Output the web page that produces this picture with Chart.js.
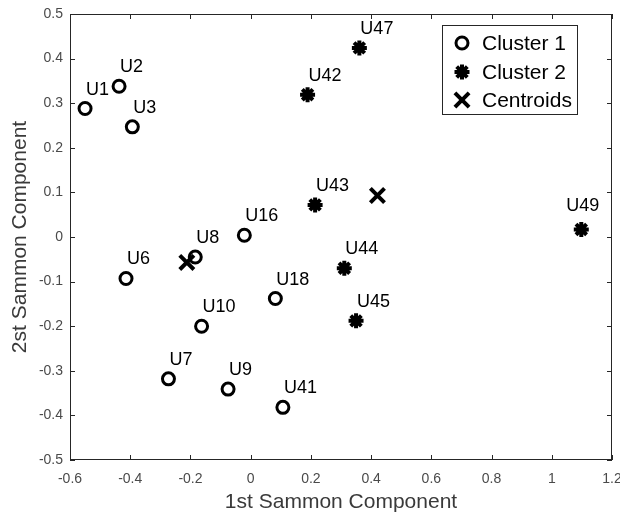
<!DOCTYPE html>
<html>
<head>
<meta charset="utf-8">
<script src="https://cdn.jsdelivr.net/npm/chart.js@4"></script>
<style>
  html, body { margin: 0; padding: 0; background: #fff; }
</style>
</head>
<body>
<canvas id="sammon" width="620" height="519"></canvas>
<script>
// cluster 1 (open circles)
var c1Names = ['U1', 'U2', 'U3', 'U6', 'U7', 'U8', 'U9', 'U10', 'U16', 'U18', 'U41'];
var c1X = [-0.550, -0.437, -0.393, -0.414, -0.273, -0.184, -0.075, -0.163, -0.021, 0.082, 0.107];
var c1Y = [0.288, 0.338, 0.247, -0.093, -0.318, -0.045, -0.341, -0.200, 0.004, -0.138, -0.382];

// cluster 2 (asterisks)
var c2Names = ['U42', 'U43', 'U44', 'U45', 'U47', 'U49'];
var c2X = [0.189, 0.214, 0.311, 0.350, 0.361, 1.098];
var c2Y = [0.319, 0.072, -0.070, -0.188, 0.424, 0.017];

// centroids
var cenX = [-0.212, 0.421];
var cenY = [-0.057, 0.093];

var legendNames = ['Cluster 1', 'Cluster 2', 'Centroids'];
var xTicks = [-0.6, -0.4, -0.2, 0, 0.2, 0.4, 0.6, 0.8, 1, 1.2];
var yTicks = [-0.5, -0.4, -0.3, -0.2, -0.1, 0, 0.1, 0.2, 0.3, 0.4, 0.5];

function pts(xs, ys) {
  return xs.map(function (x, i) { return { x: x, y: ys[i] }; });
}

var FONT = '"Liberation Sans", Arial, sans-serif';
var AXIS = '#262626';

// point labels, frame with inward ticks, and boxed legend
var extras = {
  id: 'extras',
  afterDatasetsDraw: function (chart) {
    var ctx = chart.ctx;
    var a = chart.chartArea;
    var xs = chart.scales.x, ys = chart.scales.y;
    ctx.save();

    // frame
    ctx.strokeStyle = AXIS;
    ctx.lineWidth = 1;
    ctx.strokeRect(Math.round(a.left) + 0.5, Math.round(a.top) + 0.5,
      Math.round(a.right - a.left) - 1, Math.round(a.bottom - a.top) - 1);

    // inward tick marks on all sides
    ctx.beginPath();
    xTicks.forEach(function (v) {
      var px = Math.round(xs.getPixelForValue(v)) + 0.5;
      ctx.moveTo(px, a.bottom); ctx.lineTo(px, a.bottom - 5);
      ctx.moveTo(px, a.top); ctx.lineTo(px, a.top + 5);
    });
    yTicks.forEach(function (v) {
      var py = Math.round(ys.getPixelForValue(v)) + 0.5;
      ctx.moveTo(a.left, py); ctx.lineTo(a.left + 5, py);
      ctx.moveTo(a.right, py); ctx.lineTo(a.right - 5, py);
    });
    ctx.stroke();

    // point labels
    ctx.fillStyle = '#000';
    ctx.font = '18px ' + FONT;
    ctx.textBaseline = 'alphabetic';
    ctx.textAlign = 'left';
    [[0, c1Names], [1, c2Names]].forEach(function (pair) {
      var meta = chart.getDatasetMeta(pair[0]);
      meta.data.forEach(function (el, i) {
        var name = pair[1][i];
        var dx = 1, dy = -14;
        if (name === 'U49') { dx = -15; dy = -18; }
        ctx.fillText(name, el.x + dx, el.y + dy);
      });
    });

    // legend box
    var bx = 442, by = 25, bw = 135, bh = 89;
    ctx.fillStyle = '#fff';
    ctx.fillRect(bx, by, bw, bh);
    ctx.strokeStyle = AXIS;
    ctx.strokeRect(bx + 0.5, by + 0.5, bw, bh);
    var rows = [43, 72, 100];
    ctx.font = '21px ' + FONT;
    ctx.textBaseline = 'middle';
    rows.forEach(function (ry, i) {
      var ds = chart.data.datasets[i];
      ctx.strokeStyle = '#000';
      ctx.fillStyle = 'rgba(0,0,0,0)';
      ctx.lineWidth = ds.pointBorderWidth;
      Chart.helpers.drawPoint(ctx, {
        pointStyle: ds.pointStyle, radius: ds.pointRadius, borderWidth: ds.pointBorderWidth, rotation: 0
      }, 462, ry);
      ctx.fillStyle = '#000';
      ctx.fillText(legendNames[i], 482, ry + 1);
    });
    ctx.restore();
  }
};

new Chart(document.getElementById('sammon').getContext('2d'), {
  type: 'scatter',
  data: {
    datasets: [{
      label: legendNames[0],
      data: pts(c1X, c1Y),
      pointStyle: 'circle',
      pointRadius: 6,
      pointBorderWidth: 3,
      borderColor: '#000',
      backgroundColor: 'rgba(0,0,0,0)',
      order: 2
    }, {
      label: legendNames[1],
      data: pts(c2X, c2Y),
      pointStyle: 'star',
      pointRadius: 7.5,
      pointBorderWidth: 4,
      borderColor: '#000',
      backgroundColor: '#000',
      order: 1
    }, {
      label: legendNames[2],
      data: pts(cenX, cenY),
      pointStyle: 'crossRot',
      pointRadius: 10,
      pointBorderWidth: 4,
      borderColor: '#000',
      backgroundColor: '#000',
      order: 0
    }]
  },
  options: {
    responsive: false,
    animation: false,
    events: [],
    layout: { autoPadding: false, padding: { top: 14, right: 8, left: 0, bottom: 0 } },
    plugins: { legend: { display: false }, tooltip: { enabled: false } },
    scales: {
      x: {
        type: 'linear',
        min: -0.6,
        max: 1.2,
        afterBuildTicks: function (s) { s.ticks = xTicks.map(function (v) { return { value: v }; }); },
        afterFit: function (s) { s.height = 59; s.paddingLeft = 0; s.paddingRight = 0; },
        grid: { display: false, drawTicks: false },
        border: { display: false },
        ticks: {
          padding: 11,
          color: '#4a4a4a',
          font: { family: FONT, size: 14 },
          maxRotation: 0,
          callback: function (v) { return String(v); }
        },
        title: {
          display: true,
          text: '1st Sammon Component',
          color: '#3a3a3a',
          font: { family: FONT, size: 21 },
          padding: { top: 0, bottom: 4 }
        }
      },
      y: {
        type: 'linear',
        min: -0.5,
        max: 0.5,
        afterBuildTicks: function (s) { s.ticks = yTicks.map(function (v) { return { value: v }; }); },
        afterFit: function (s) { s.width = 70; s.paddingTop = 0; s.paddingBottom = 0; },
        grid: { display: false, drawTicks: false },
        border: { display: false },
        ticks: {
          padding: 7,
          color: '#4a4a4a',
          font: { family: FONT, size: 14 },
          callback: function (v) { return String(v); }
        },
        title: {
          display: true,
          text: '2st Sammon Component',
          color: '#3a3a3a',
          font: { family: FONT, size: 21 },
          padding: { top: 8, bottom: 0 }
        }
      }
    }
  },
  plugins: [extras]
});
</script>
</body>
</html>
